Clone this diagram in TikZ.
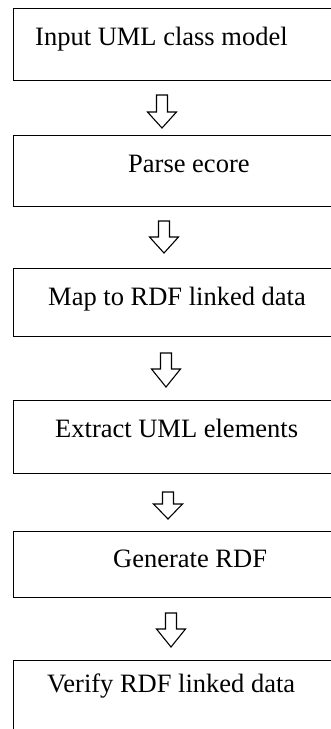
\documentclass[tikz,border=0pt]{standalone}
\usepackage{fontspec}
\setmainfont{Liberation Serif}
\begin{document}
\begin{tikzpicture}[x=1pt,y=-1pt,
  stepbox/.style={draw=black,line width=1.4pt,rectangle,minimum width=360pt,inner sep=0pt,anchor=north west},
  lbl/.style={anchor=base west,inner sep=0pt,font=\fontsize{26.5}{30}\selectfont},
  blockarrow/.style={draw=black,line width=1.1pt,fill=white,line join=miter}]
\useasboundingbox (0,0) rectangle (331,729);
% boxes
\node[stepbox,minimum height=72pt] (b1) at (13,8) {};
\node[stepbox,minimum height=71pt] (b2) at (13,135) {};
\node[stepbox,minimum height=68pt] (b3) at (13,268) {};
\node[stepbox,minimum height=73pt] (b4) at (13,400) {};
\node[stepbox,minimum height=66pt] (b5) at (13,531) {};
\node[stepbox,minimum height=90pt] (b6) at (13,660) {};
% labels
\node[lbl] (t1) at (35,45) {Input UML class model};
\node[lbl] (t2) at (128,172) {Parse ecore};
\node[lbl] (t3) at (48,305) {Map to RDF linked data};
\node[lbl] (t4) at (55,437) {Extract UML elements};
\node[lbl] (t5) at (113,567) {Generate RDF};
\node[lbl] (t6) at (47,692) {Verify RDF linked data};
% block arrows
\newcommand{\blockarr}[4]{% cx, top, base, tip
  \draw[blockarrow] (#1-5.5,#2) -- (#1+5.5,#2) -- (#1+5.5,#3) -- (#1+14.5,#3)
    -- (#1,#4) -- (#1-14.5,#3) -- (#1-5.5,#3) -- cycle;}
\blockarr{162}{95}{112}{128}
\blockarr{164}{221}{237}{253}
\blockarr{166}{353}{369}{387}
\blockarr{168}{492}{504}{519}
\blockarr{171}{613}{629}{647}
\end{tikzpicture}
\end{document}
